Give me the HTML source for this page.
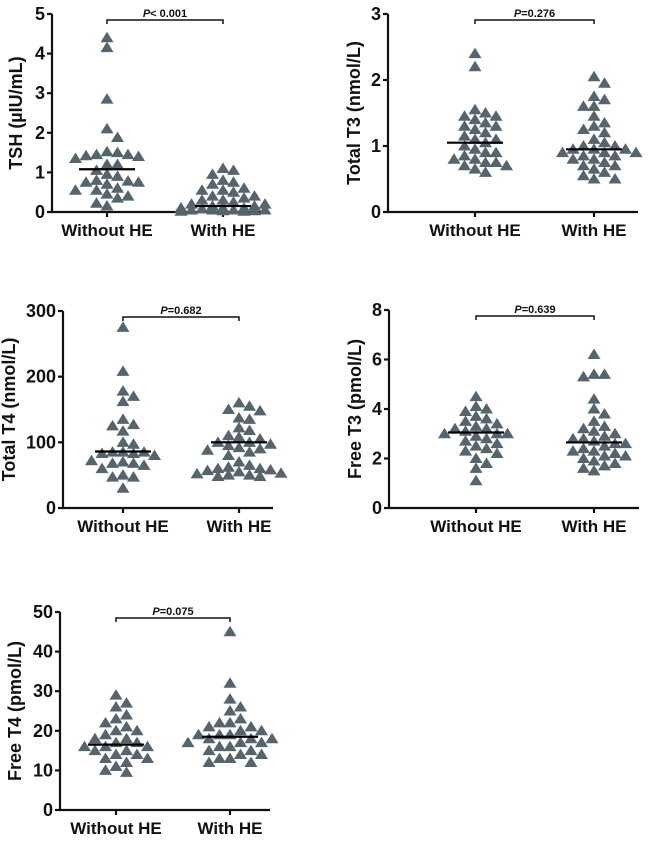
<!DOCTYPE html>
<html><head><meta charset="utf-8"><style>
body{margin:0;background:#fff;width:650px;height:841px;overflow:hidden}
svg text{font-family:"Liberation Sans",Arial,sans-serif;font-weight:bold;fill:#111}
</style></head><body>
<svg id="fig" width="650" height="841" viewBox="0 0 650 841" xmlns="http://www.w3.org/2000/svg"></svg>
<script>
const categories = ["Without HE","With HE"];
const tshWithout = [4.4,4.15,2.85,2.1,1.88,1.5,1.45,1.42,1.4,1.45,1.52,1.35,1.2,1.2,1.05,0.95,0.9,0.8,0.75,0.75,0.78,0.7,0.6,0.55,0.55,0.45,0.4,0.35,0.22,0.15];
const tshWith = [1.1,1.05,0.95,0.8,0.75,0.7,0.6,0.55,0.55,0.5,0.4,0.4,0.35,0.3,0.3,0.25,0.2,0.2,0.15,0.15,0.1,0.1,0.1,0.08,0.05,0.05,0.05,0.03,0.02,0.02,0.03,0.05];
const tshMedians = [1.08,0.15];
const t3Without = [2.4,2.2,1.55,1.5,1.45,1.45,1.4,1.35,1.3,1.3,1.25,1.2,1.15,1.1,1.1,1.05,1.0,0.95,0.9,0.9,0.85,0.8,0.8,0.75,0.75,0.7,0.7,0.65,0.6];
const t3With = [2.05,1.95,1.75,1.7,1.6,1.6,1.45,1.35,1.3,1.25,1.2,1.1,1.05,1.0,1.0,0.95,0.95,0.95,0.9,0.9,0.9,0.85,0.85,0.8,0.8,0.75,0.7,0.7,0.65,0.6,0.55,0.5,0.5];
const t3Medians = [1.05,0.95];
const t4Without = [275,208,178,170,162,135,125,127,117,100,97,85,85,83,83,80,85,70,68,68,72,65,60,50,47,47,30];
const t4With = [160,155,150,148,137,135,122,118,110,108,105,100,100,97,95,92,90,88,85,80,70,65,62,60,58,57,55,53,52,50,50,48,48,60];
const t4Medians = [86,100];
const ft3Without = [4.5,4.1,4.0,3.9,3.7,3.6,3.5,3.4,3.3,3.2,3.2,3.1,3.0,3.0,3.0,2.9,2.8,2.7,2.6,2.5,2.4,2.3,2.2,2.0,1.8,1.6,1.1];
const ft3With = [6.2,5.4,5.4,5.3,4.4,4.0,3.8,3.5,3.3,3.2,3.1,3.0,2.9,2.8,2.8,2.7,2.6,2.6,2.5,2.4,2.3,2.3,2.2,2.1,2.1,2.0,1.9,1.8,1.7,1.6,1.5];
const ft3Medians = [3.05,2.65];
const ft4Without = [29,27,26,24,23,22,21,20,20,19,18,18,17,17,16,16,16,15,15,14,14,13,13,12,11,10,9.5];
const ft4With = [45,32,28,26,25,23,22,22,21,21,20,20,19,19,19,18,18,18,17,17,17,16,16,15,15,14,14,13,13,12,12];
const ft4Medians = [16.5,18.5];
const tshTicks = [0,1,2,3,4,5];
const t3Ticks = [0,1,2,3];
const t4Ticks = [0,100,200,300];
const ft3Ticks = [0,2,4,6,8];
const ft4Ticks = [0,10,20,30,40,50];
const pLabels = ["< 0.001","=0.276","=0.682","=0.639","=0.075"];

const NS="http://www.w3.org/2000/svg";
const svg=document.getElementById('fig');
function mk(tag,attrs,parent){const e=document.createElementNS(NS,tag);for(const k in attrs)e.setAttribute(k,attrs[k]);(parent||svg).appendChild(e);return e;}

function panel(name,title,ticks,groups,medians,pLabel,g){
  const G=mk('g',{});
  
  
  const max=ticks[ticks.length-1];
  const y=v=>g.y0-(v/max)*(g.y0-g.yTop);
  const axis=mk('path',{d:`M${g.ax},${g.yTop} V${g.y0} H${g.ax+g.w}`,stroke:'#111','stroke-width':2.2,fill:'none'},G);
  
  
  ticks.forEach(t=>{
    mk('line',{x1:g.ax-5,x2:g.ax,y1:y(t),y2:y(t),stroke:'#111','stroke-width':2.2},G);
    const tl=mk('text',{x:g.ax-7,y:y(t)+6,'text-anchor':'end','font-size':18},G);
    tl.textContent=t;
    
    
  });
  const yt=mk('text',{x:0,y:0,'text-anchor':'middle','font-size':18,transform:`translate(${g.ax-g.tOff},${(g.y0+g.yTop)/2}) rotate(-90)`},G);
  yt.textContent=title;
  
  
  categories.forEach((c,i)=>{
    const cx=g.cx[i];
    mk('line',{x1:cx,x2:cx,y1:g.y0,y2:g.y0+5,stroke:'#111','stroke-width':2.2},G);
    const cl=mk('text',{x:cx,y:g.y0+24,'text-anchor':'middle','font-size':17},G);
    cl.textContent=c;
    
    
    const vals=groups[i].slice().sort((a,b)=>b-a);
    const placed=[];
    const cands=[0];for(let k=1;k<=4;k++){cands.push(k*10.5,-k*10.5);}
    vals.forEach(v=>{
      const py=y(v);let best=0,bestD=-1;
      for(const o of cands){
        let d=Infinity;
        placed.forEach(p=>{d=Math.min(d,Math.hypot((p[0]-o),(p[1]-py)*1.15));});
        if(d>=10.5){best=o;bestD=Infinity;break;}
        if(d>bestD){bestD=d;best=o;}
      }
      placed.push([best,py]);
      const px=cx+best;
      const tri=mk('polygon',{points:`${px},${py-6} ${px-6.5},${py+4.5} ${px+6.5},${py+4.5}`,fill:'#56656d'},G);
      
      
    });
    const md=mk('line',{x1:cx-28,x2:cx+28,y1:y(medians[i]),y2:y(medians[i]),stroke:'#000','stroke-width':2.2},G);
    
    
  });
  const by=g.yTop+6;
  const br=mk('path',{d:`M${g.cx[0]},${by+4} V${by} H${g.cx[1]} V${by+4}`,stroke:'#111','stroke-width':1.5,fill:'none'},G);
  
  
  const pt=mk('text',{x:(g.cx[0]+g.cx[1])/2,y:by-3,'text-anchor':'middle','font-size':11},G);
  pt.innerHTML='<tspan font-style="italic">P</tspan>'+pLabel;
  
  
}
panel('tsh','TSH (µIU/mL)',tshTicks,[tshWithout,tshWith],tshMedians,pLabels[0],{ax:52,y0:212,yTop:14,w:213,cx:[107,223],tOff:30});
panel('total-t3','Total T3 (nmol/L)',t3Ticks,[t3Without,t3With],t3Medians,pLabels[1],{ax:388,y0:212,yTop:14,w:250,cx:[475,594],tOff:28});
panel('total-t4','Total T4 (nmol/L)',t4Ticks,[t4Without,t4With],t4Medians,pLabels[2],{ax:63,y0:508,yTop:311,w:210,cx:[123,239],tOff:48});
panel('free-t3','Free T3 (pmol/L)',ft3Ticks,[ft3Without,ft3With],ft3Medians,pLabels[3],{ax:389,y0:508,yTop:310,w:250,cx:[476,594],tOff:28});
panel('free-t4','Free T4 (pmol/L)',ft4Ticks,[ft4Without,ft4With],ft4Medians,pLabels[4],{ax:60,y0:810,yTop:612,w:210,cx:[116,230],tOff:39});
</script>
</body></html>
